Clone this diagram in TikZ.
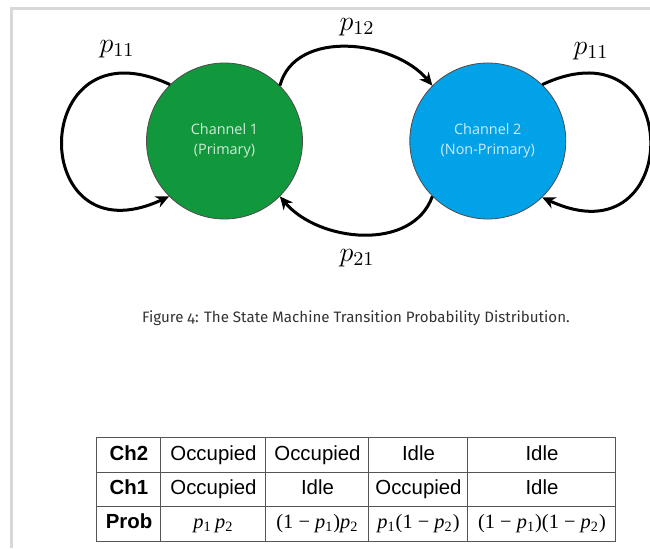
\documentclass[tikz,border=0pt]{standalone}
\usepackage{fix-cm}
\usepackage[no-math]{fontspec}
\setmainfont{Liberation Sans}
\newfontfamily\chanfont{Open Sans}
\newfontfamily\capfont[Numbers=OldStyle]{Fira Sans}
\newfontfamily\tmsfont{Liberation Serif}
\usetikzlibrary{positioning,arrows.meta,matrix}

\definecolor{chgreen}{RGB}{18,152,60}
\definecolor{chblue}{RGB}{2,162,232}
\definecolor{framegray}{RGB}{216,216,216}
\definecolor{rulegray}{RGB}{85,85,85}

% italic p with a numeric subscript, for the probability row
\newcommand{\pv}[1]{\textit{p}\textsubscript{#1}}

\tikzset{
state/.style={
circle,
draw=black!70,
thin,
minimum size=78pt,
inner sep=0pt,
align=center,
text=white,
text opacity=0.8,
font=\chanfont\fontsize{7.2}{10}\selectfont
},
trans/.style={
-{Stealth[length=6.5pt,width=6pt]},
line width=1.5pt
},
problabel/.style={
font=\fontsize{14}{16}\selectfont
},
cell/.style={
draw=rulegray,
line width=0.5pt,
anchor=center,
text height=7.6pt,
text depth=2.6pt,
minimum height=17.2pt,
inner sep=0pt,
font=\fontsize{10.2}{12}\selectfont
}
}

\begin{document}
\begin{tikzpicture}[x=0.5pt,y=0.5pt,node distance=53.25pt]
\fill[white] (0,0) rectangle (650,548);
\useasboundingbox (0,0) rectangle (650,548);
\draw[framegray,line width=1.5pt] (11.5,0) -- (11.5,539.5) -- (650,539.5);

% the two channel states
\node[state,fill=chgreen](ch1) at (224.5,407){Channel 1\\(Primary)};
\node[state,fill=chblue,right=of ch1](ch2){Channel 2\\(Non-Primary)};

% transitions
\draw[trans](ch1.134) to[out=155,in=205,looseness=3.6] (ch1.225);
\draw[trans](ch2.46) to[out=25,in=-25,looseness=3.6] (ch2.-46);
\draw[trans](ch1.45) to[out=75,in=130] (ch2.135);
\draw[trans](ch2.225) to[out=-110,in=-50] (ch1.-45);

\node[problabel](pa) at (117,499){$p_{11}$};
\node[problabel](pb) at (357,521){$p_{12}$};
\node[problabel](pc) at (591,497){$p_{11}$};
\node[problabel](pd) at (357,290){$p_{21}$};

\node[font=\capfont\fontsize{7.55}{9}\selectfont,text=black!80](cap) at (356,230)
{Figure 4: The State Machine Transition Probability Distribution.};

% joint occupancy table
\matrix (tbl) [matrix of nodes,nodes={cell},column sep=-0.5pt,row sep=-0.5pt,
column 1/.style={nodes={minimum width=32pt,font=\fontsize{10.2}{12}\selectfont\bfseries}},
column 2/.style={nodes={minimum width=52.5pt}},
column 3/.style={nodes={minimum width=51.5pt}},
column 4/.style={nodes={minimum width=49.5pt}},
column 5/.style={nodes={minimum width=74pt}}] at (356.5,58.5) {
Ch2 & Occupied & Occupied & Idle & Idle\\
Ch1 & Occupied & Idle & Occupied & Idle\\
Prob & \tmsfont\pv1\,\pv2 & \tmsfont(1 − \pv1)\pv2 & \tmsfont\pv1(1 − \pv2) & \tmsfont(1 − \pv1)(1 − \pv2)\\
};
\end{tikzpicture}
\end{document}
